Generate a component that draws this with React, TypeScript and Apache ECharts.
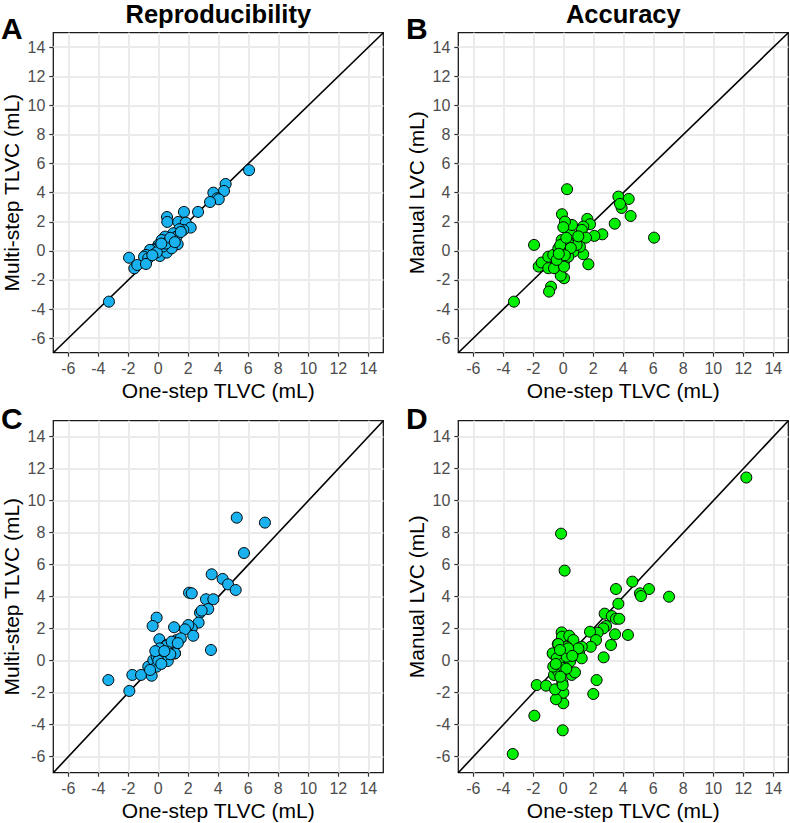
import React, { useEffect, useRef } from "react";
import * as echarts from "echarts";

const FONT = '"Liberation Sans", Arial, Helvetica, sans-serif';

const tickValues = [-6, -4, -2, 0, 2, 4, 6, 8, 10, 12, 14];
const axisMin = -7;
const axisMax = 15;
const identityLine = [
  [axisMin, axisMin],
  [axisMax, axisMax],
];

const xTitle = "One-step TLVC (mL)";
const yTitleRepro = "Multi-step TLVC (mL)";
const yTitleAcc = "Manual LVC (mL)";
const columnTitles = ["Reproducibility", "Accuracy"];
const panelLetters = ["A", "B", "C", "D"];

// [one-step TLVC, multi-step TLVC]
const panelA = [
  [6.05, 5.55], [4.49, 4.6], [4.38, 4.12], [3.67, 4.0], [3.93, 3.62], [4.03, 3.55],
  [3.45, 3.36], [2.65, 2.68], [1.71, 2.68], [0.58, 2.33], [0.6, 1.99], [1.33, 1.99],
  [1.83, 1.94], [2.16, 1.6], [1.67, 1.44], [1.4, 1.49], [1.0, 1.21], [1.22, 0.98],
  [1.29, 0.46], [0.45, 0.98], [0.23, 0.75], [0.67, 0.64], [0.0, 0.41], [-0.11, 0.18],
  [0.11, 0.07], [-0.33, 0.07], [-0.55, 0.07], [-0.22, -0.2], [0.11, -0.35], [0.56, -0.12],
  [0.89, 0.18], [-0.82, -0.28], [-0.95, -0.4], [-0.67, -0.5], [-1.95, -0.47], [-1.6, -1.2],
  [-1.4, -0.97], [-0.82, -0.9], [-3.29, -3.49], [0.3, 0.3], [0.5, 0.5], [0.8, 0.9],
  [1.5, 1.3], [-0.1, -0.1], [0.2, 0.5], [1.1, 0.6], [-0.4, -0.3],
];

// [one-step TLVC, manual LVC]
const panelB = [
  [6.05, 0.91], [0.25, 4.24], [3.67, 3.73], [4.36, 3.57], [3.89, 2.95], [3.78, 3.23],
  [4.49, 2.4], [3.43, 1.87], [2.6, 1.14], [2.07, 1.03], [1.6, 2.2], [1.78, 1.83],
  [1.33, 1.67], [1.23, 1.44], [1.51, 0.91], [1.67, -0.92], [1.33, -0.23], [1.11, 0.29],
  [0.67, -0.05], [0.78, 0.75], [0.45, 1.21], [0.58, 1.78], [-0.09, 2.52], [0.11, 2.01],
  [0.0, 1.63], [0.05, -1.88], [-0.17, -1.7], [-0.82, -2.46], [-0.95, -2.8], [-1.95, 0.41],
  [-1.64, -1.08], [-1.44, -0.8], [-1.0, -1.19], [-0.62, -1.19], [-1.0, -0.4], [-0.67, -0.28],
  [-0.33, 0.18], [-0.11, 0.75], [0.11, 0.41], [-0.17, -0.16], [0.05, -0.74], [0.05, -1.08],
  [0.33, -0.4], [-0.44, -0.62], [-3.29, -3.49], [0.22, 0.07], [0.89, 0.41], [0.3, 0.6],
  [0.0, 0.0], [-0.2, 0.4], [0.5, 0.2], [0.1, -0.3], [-0.3, -0.2], [1.0, 1.0], [0.2, 0.9],
];

// [one-step TLVC, multi-step TLVC]
const panelC = [
  [5.23, 8.94], [7.11, 8.63], [5.71, 6.73], [3.56, 5.4], [4.29, 5.11], [4.65, 4.77],
  [5.16, 4.42], [2.05, 4.25], [2.23, 4.21], [3.18, 3.84], [3.67, 3.84], [3.33, 3.23],
  [2.78, 3.0], [2.89, 3.13], [2.69, 2.38], [2.23, 2.02], [2.0, 2.23], [1.78, 1.96],
  [2.33, 1.56], [1.05, 2.09], [-0.11, 2.69], [-0.38, 2.17], [0.07, 1.34], [3.51, 0.67],
  [1.22, 1.29], [1.11, 0.98], [0.56, 0.98], [0.78, 0.67], [1.11, 0.46], [-3.33, -1.21],
  [-1.73, -0.89], [-1.15, -0.89], [-1.93, -1.89], [-0.44, -0.94], [-0.67, -0.37], [-0.33, 0.04],
  [-0.11, 0.25], [0.11, 0.46], [0.33, 0.04], [0.63, -0.02], [1.11, 0.46], [0.56, 0.94],
  [0.89, 1.19], [-0.11, -0.37], [-0.55, -0.58], [0.11, 0.77], [0.3, 0.3], [0.0, 0.0],
  [0.2, -0.2], [1.5, 1.4], [0.8, 0.4], [-0.2, 0.6], [0.4, 0.6], [1.3, 1.1],
];

// [one-step TLVC, manual LVC]
const panelD = [
  [-0.15, 7.94], [0.09, 5.63], [4.6, 4.94], [3.51, 4.48], [5.71, 4.48], [5.11, 4.21],
  [5.18, 4.04], [7.05, 4.0], [3.67, 3.56], [2.76, 2.94], [3.23, 2.79], [3.51, 2.62],
  [3.73, 2.62], [2.85, 2.17], [2.67, 2.02], [2.29, 1.75], [3.45, 1.65], [4.31, 1.61],
  [1.78, 1.81], [2.18, 1.29], [1.83, 0.87], [3.18, 0.98], [2.69, 0.21], [-0.11, 1.77],
  [-0.09, 1.5], [0.4, 1.56], [-0.37, 1.04], [0.67, 1.29], [1.23, 0.87], [1.05, 0.46],
  [-0.67, 0.42], [0.23, 0.87], [0.45, 0.56], [-3.37, -5.83], [-1.93, -3.44], [-0.04, -4.35],
  [-1.77, -1.52], [-1.15, -1.56], [2.0, -2.08], [2.22, -1.21], [0.0, -2.66], [0.0, -2.0],
  [-0.49, -2.41], [-0.55, -1.79], [-0.07, -1.35], [-0.04, -1.52], [-0.62, -0.89], [-0.33, -0.69],
  [-0.67, -0.37], [-0.71, 0.46], [-0.44, 0.15], [0.0, -0.16], [0.05, -0.44], [0.56, -0.89],
  [0.78, -0.73], [0.45, -0.06], [0.23, 0.25], [0.89, 0.36], [1.23, 0.15], [1.0, 0.77],
  [-0.33, 1.04], [0.33, 0.77], [-0.22, 0.67], [12.2, 11.45], [0.2, -0.5], [-0.2, -1.0],
  [0.6, 0.3], [-0.5, -0.2],
];

const panels = [
  { data: panelA, color: "#19b2ee", yTitle: yTitleRepro },
  { data: panelB, color: "#00ee00", yTitle: yTitleAcc },
  { data: panelC, color: "#19b2ee", yTitle: yTitleRepro },
  { data: panelD, color: "#00ee00", yTitle: yTitleAcc },
];

const gridBoxes = [
  { left: 53.3, top: 32.7, width: 330, height: 320 },
  { left: 458.3, top: 32.7, width: 330, height: 320 },
  { left: 53.3, top: 420.7, width: 330, height: 352 },
  { left: 458.3, top: 420.7, width: 330, height: 352 },
];

function buildOption() {
  const grid = gridBoxes.map((g) => ({
    ...g,
    show: true,
    borderColor: "#1a1a1a",
    borderWidth: 1.3,
    backgroundColor: "transparent",
    containLabel: false,
  }));

  const axisCommon = (i: number) => ({
    type: "value" as const,
    gridIndex: i,
    min: axisMin,
    max: axisMax,
    axisLine: { show: false, onZero: false },
    axisTick: {
      show: true,
      length: 4,
      inside: false,
      customValues: tickValues,
      lineStyle: { color: "#333333", width: 1.2 },
    },
    axisLabel: {
      customValues: tickValues,
      color: "#4d4d4d",
      fontSize: 16,
      fontFamily: FONT,
      margin: 8,
    },
    splitLine: { show: true, lineStyle: { color: "#ebebeb", width: 2 } },
    nameLocation: "middle" as const,
    nameTextStyle: { fontSize: 21, color: "#000", fontFamily: FONT },
  });

  const xAxis = panels.map((p, i) => ({
    ...axisCommon(i),
    name: xTitle,
    nameGap: 27,
  }));
  const yAxis = panels.map((p, i) => ({
    ...axisCommon(i),
    name: p.yTitle,
    nameGap: 31,
  }));

  const series: any[] = [];
  panels.forEach((p, i) => {
    series.push({
      type: "line",
      xAxisIndex: i,
      yAxisIndex: i,
      data: identityLine,
      symbol: "none",
      silent: true,
      lineStyle: { color: "#000", width: 1.6 },
      z: 2,
    });
    series.push({
      type: "scatter",
      xAxisIndex: i,
      yAxisIndex: i,
      data: p.data,
      symbol: "circle",
      symbolSize: 11,
      itemStyle: { color: p.color, borderColor: "#000", borderWidth: 1, opacity: 1 },
      z: 3,
    });
  });

  const graphic: any[] = [
    {
      type: "text",
      x: 218.3,
      y: 14,
      style: { text: columnTitles[0], font: `bold 25.5px ${FONT}`, align: "center", verticalAlign: "middle", fill: "#000" },
    },
    {
      type: "text",
      x: 623.3,
      y: 14,
      style: { text: columnTitles[1], font: `bold 25.5px ${FONT}`, align: "center", verticalAlign: "middle", fill: "#000" },
    },
  ];
  const letterPos = [
    [1, 28],
    [406, 28],
    [1, 418],
    [406, 418],
  ];
  panelLetters.forEach((l, i) => {
    graphic.push({
      type: "text",
      x: letterPos[i][0],
      y: letterPos[i][1],
      style: { text: l, font: `bold 30px ${FONT}`, align: "left", verticalAlign: "middle", fill: "#000" },
    });
  });

  return {
    animation: false,
    backgroundColor: "#ffffff",
    textStyle: { fontFamily: FONT },
    grid,
    xAxis,
    yAxis,
    series,
    graphic,
  };
}

export default function App() {
  const ref = useRef<HTMLDivElement>(null);
  useEffect(() => {
    if (!ref.current) return;
    const chart = echarts.init(ref.current, undefined, { renderer: "svg" });
    chart.setOption(buildOption() as any);
    return () => chart.dispose();
  }, []);
  return (
    <div
      ref={ref}
      style={{ position: "absolute", left: 0, top: 0, width: 790, height: 823, background: "#fff" }}
    />
  );
}
